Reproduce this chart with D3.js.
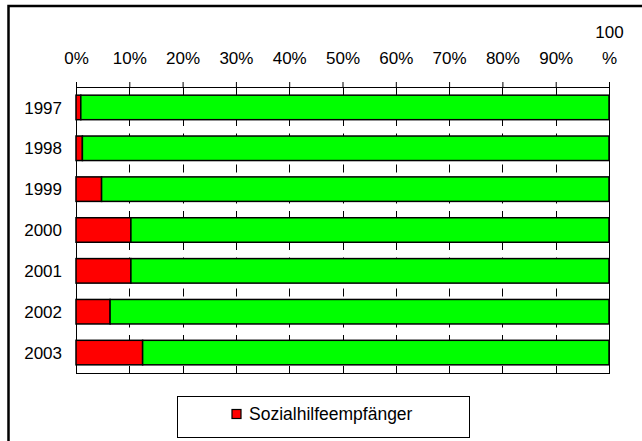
<!DOCTYPE html>
<html>
<head>
<meta charset="utf-8">
<script src="https://cdn.jsdelivr.net/npm/d3@7"></script>
<style>
  body { margin: 0; background: #fff; }
  text { font-family: "Liberation Sans", Arial, sans-serif; fill: #000; }
</style>
</head>
<body>
<div id="chart"></div>
<script>
// data (shares in percent)
var years = ["1997", "1998", "1999", "2000", "2001", "2002", "2003"];
var sozialShare = [0.9, 1.2, 4.8, 10.3, 10.3, 6.4, 12.5];
var otherShare = [99.1, 98.8, 95.2, 89.7, 89.7, 93.6, 87.5];
var tickValues = [0, 10, 20, 30, 40, 50, 60, 70, 80, 90, 100];
var legendLabel = "Sozialhilfeempfänger";

var width = 642,
    height = 441;
var margin = {top: 87, right: 33, bottom: 68, left: 76},
    plotW = width - margin.left - margin.right,
    plotH = height - margin.top - margin.bottom;

var svg = d3.select("#chart")
  .append("svg")
  .attr("width", width)
  .attr("height", height);

// outer frame (runs off the right and bottom edge)
svg.append("rect")
  .attr("x", 8.5)
  .attr("y", 6)
  .attr("width", width + 20)
  .attr("height", height + 20)
  .attr("fill", "none")
  .attr("stroke", "#000")
  .attr("stroke-width", 2.5);

var g = svg.append("g")
  .attr("transform", `translate(${margin.left}, ${margin.top})`);

var x = d3.scaleLinear()
  .domain([0, 100])
  .range([0, plotW]);

var y = d3.scaleBand()
  .domain(years)
  .range([0, plotH])
  .paddingInner(0.4)
  .paddingOuter(0.2);

var rows = years.map((yr, i) => ({year: yr, sozial: sozialShare[i], other: otherShare[i]}));
var stacked = d3.stack().keys(["sozial", "other"])(rows);
var colors = {sozial: "#ff0000", other: "#00ff00"};

// dashed gridlines
g.append("g")
  .selectAll("line")
  .data(tickValues.slice(1, -1))
  .join("line")
    .attr("x1", d => Math.round(x(d)) + 0.5)
    .attr("x2", d => Math.round(x(d)) + 0.5)
    .attr("y1", 0)
    .attr("y2", plotH)
    .attr("stroke", "#000")
    .attr("stroke-width", 1)
    .attr("stroke-dasharray", "8,7.5");

// plot area border
g.append("rect")
  .attr("x", 0.5)
  .attr("y", 0.5)
  .attr("width", plotW)
  .attr("height", plotH)
  .attr("fill", "none")
  .attr("stroke", "#000")
  .attr("stroke-width", 1);

// bars
g.append("g")
  .selectAll("g")
  .data(stacked)
  .join("g")
    .attr("fill", d => colors[d.key])
  .selectAll("rect")
  .data(d => d)
  .join("rect")
    .attr("x", d => x(d[0]))
    .attr("y", d => y(d.data.year))
    .attr("width", d => x(d[1]) - x(d[0]))
    .attr("height", y.bandwidth())
    .attr("stroke", "#000")
    .attr("stroke-width", 1.5);

// top axis
var xAxis = g.append("g")
  .call(d3.axisTop(x)
    .tickValues(tickValues)
    .tickSize(5)
    .tickPadding(18)
    .tickFormat(d => d + "%"));
xAxis.select(".domain").remove();
xAxis.selectAll("line").attr("stroke", "#000");
xAxis.selectAll("text")
  .attr("font-size", 17)
  .attr("font-family", "Liberation Sans, Arial, sans-serif");
// the 100% label wraps onto two lines
xAxis.selectAll(".tick text")
  .filter(d => d === 100)
  .text(null)
  .call(t => {
    t.append("tspan").attr("x", 0).attr("dy", "-1.55em").text("100");
    t.append("tspan").attr("x", 0).attr("dy", "1.55em").text("%");
  });

// year labels
g.append("g")
  .selectAll("text")
  .data(years)
  .join("text")
    .attr("x", -14)
    .attr("y", d => y(d) + y.bandwidth() / 2)
    .attr("dy", "0.36em")
    .attr("text-anchor", "end")
    .attr("font-size", 17)
    .text(d => d);

// legend
var legend = svg.append("g")
  .attr("transform", "translate(177, 396)");
legend.append("rect")
  .attr("x", 0.5)
  .attr("y", 0.5)
  .attr("width", 292)
  .attr("height", 41)
  .attr("fill", "#fff")
  .attr("stroke", "#000")
  .attr("stroke-width", 1);
legend.append("rect")
  .attr("x", 55)
  .attr("y", 13.5)
  .attr("width", 9)
  .attr("height", 9)
  .attr("fill", colors.sozial)
  .attr("stroke", "#000")
  .attr("stroke-width", 1.2);
legend.append("text")
  .attr("x", 72)
  .attr("y", 24)
  .attr("font-size", 17.5)
  .text(legendLabel);
</script>
</body>
</html>
